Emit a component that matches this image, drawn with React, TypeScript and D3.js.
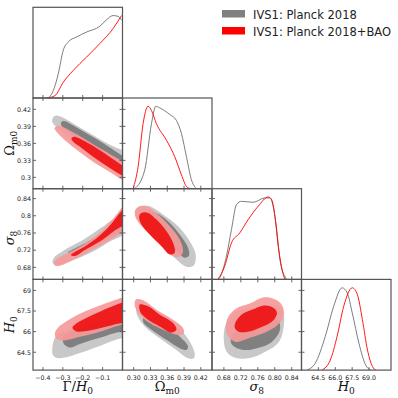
import * as d3 from "d3";

type P = [number, number];

// ---- axes ----
const gammaRange: P = [-0.45, 0];
const omegaRange: P = [0.28, 0.44];
const sigmaRange: P = [0.652, 0.863];
const h0Range: P = [63.2, 69.8];
const h0DiagRange: P = [63.0, 70.95];

const gammaTicks = [-0.4, -0.3, -0.2, -0.1];
const gammaXText = ["−0.4", "−0.3", "−0.2", "−0.1"];
const omegaTicks = [0.3, 0.33, 0.36, 0.39, 0.42];
const omegaXText = ["0.30", "0.33", "0.36", "0.39", "0.42"];
const omegaYText = ["0.3", "0.33", "0.36", "0.39", "0.42"];
const sigmaTicks = [0.68, 0.72, 0.76, 0.8, 0.84];
const sigmaXText = ["0.68", "0.72", "0.76", "0.80", "0.84"];
const sigmaYText = ["0.68", "0.72", "0.76", "0.8", "0.84"];
const h0Ticks = [64.5, 66, 67.5, 69];
const h0XText = ["64.5", "66.0", "67.5", "69.0"];
const h0YText = ["64.5", "66", "67.5", "69"];

const legendNames = ["IVS1: Planck 2018", "IVS1: Planck 2018+BAO"];
const legendColors = ["#808080", "#ff0000"];

// ---- 1D marginals (value, relative density) ----
const gammaGray: P[] = [[-0.373, 0], [-0.348, 0.089], [-0.323, 0.293], [-0.298, 0.578], [-0.273, 0.68], [-0.231, 0.74], [-0.181, 0.8], [-0.114, 0.87], [-0.082, 0.945], [-0.047, 1.0], [-0.022, 0.99], [-0.005, 0.945]];
const gammaRed: P[] = [[-0.381, 0], [-0.34, 0.028], [-0.298, 0.19], [-0.248, 0.334], [-0.181, 0.496], [-0.114, 0.66], [-0.047, 0.843], [-0.005, 1.0]];
const omegaGray: P[] = [[0.302, 0], [0.3198, 0.228], [0.3318, 0.788], [0.3395, 1.0], [0.3466, 0.98], [0.3645, 0.9], [0.3764, 0.828], [0.3854, 0.668], [0.3943, 0.388], [0.4032, 0.108], [0.4122, 0]];
const omegaRed: P[] = [[0.2989, 0], [0.3079, 0.266], [0.3168, 0.788], [0.3257, 1.0], [0.3318, 0.948], [0.3407, 0.788], [0.3586, 0.588], [0.3734, 0.388], [0.3854, 0.168], [0.3943, 0.028], [0.402, 0]];
const sigmaGray: P[] = [[0.6662, 0], [0.6702, 0.02], [0.686, 0.282], [0.6979, 0.605], [0.7097, 0.907], [0.7216, 0.947], [0.749, 0.935], [0.7767, 0.988], [0.7885, 0.988], [0.7963, 0.886], [0.8044, 0.605], [0.8122, 0.242], [0.824, 0.033], [0.828, 0]];
const sigmaRed: P[] = [[0.6662, 0], [0.682, 0.161], [0.6979, 0.443], [0.7175, 0.564], [0.7372, 0.725], [0.7608, 0.886], [0.7845, 1.0], [0.7925, 0.967], [0.8004, 0.766], [0.8082, 0.403], [0.82, 0.06], [0.824, 0]];
const h0Gray: P[] = [[63.47, 0], [64.21, 0.081], [65.11, 0.407], [65.86, 0.774], [66.61, 0.998], [67.06, 0.937], [67.51, 0.693], [68.1, 0.326], [68.7, 0.061], [69.15, 0]];
const h0Red: P[] = [[64.81, 0], [65.56, 0.122], [66.16, 0.407], [66.75, 0.774], [67.51, 0.998], [67.96, 0.917], [68.41, 0.611], [68.86, 0.244], [69.31, 0.041], [69.6, 0]];

// ---- 2D contours (95% / 68%) ----
const gamOmGray95: P[] = [[-0.352, 0.404], [-0.335, 0.409], [-0.305, 0.4065], [-0.264, 0.3986], [-0.214, 0.388], [-0.164, 0.3777], [-0.114, 0.3672], [-0.064, 0.3576], [0.0, 0.348], [0.022, 0.3445], [0.022, 0.3027], [-0.064, 0.3166], [-0.139, 0.3341], [-0.214, 0.355], [-0.289, 0.376], [-0.335, 0.39], [-0.352, 0.397]];
const gamOmGray68: P[] = [[-0.3095, 0.3969], [-0.2945, 0.3995], [-0.2393, 0.3899], [-0.164, 0.3742], [-0.0888, 0.3585], [0.0, 0.3384], [0.022, 0.3349], [0.022, 0.3166], [-0.0637, 0.3306], [-0.139, 0.348], [-0.214, 0.3655], [-0.2744, 0.3812], [-0.3045, 0.3899]];
const gamOmRed95: P[] = [[-0.342, 0.3864], [-0.3296, 0.3908], [-0.3045, 0.3899], [-0.2393, 0.3777], [-0.164, 0.362], [-0.0888, 0.3463], [0.0, 0.328], [0.022, 0.3236], [0.022, 0.2939], [-0.0637, 0.3096], [-0.139, 0.3254], [-0.214, 0.3445], [-0.2895, 0.3655], [-0.3296, 0.3794]];
const gamOmRed68: P[] = [[-0.2568, 0.3681], [-0.2443, 0.3716], [-0.1891, 0.3637], [-0.1139, 0.348], [0.0, 0.321], [0.022, 0.3166], [0.022, 0.3009], [-0.0637, 0.3166], [-0.139, 0.3341], [-0.2042, 0.3515], [-0.2443, 0.362]];

const gamSigGray95: P[] = [[-0.352, 0.6937], [-0.3396, 0.7053], [-0.3145, 0.7134], [-0.2794, 0.7239], [-0.1992, 0.7436], [-0.1139, 0.7702], [-0.0386, 0.7957], [0.0, 0.8097], [0.0216, 0.8166], [0.0216, 0.7633], [-0.0637, 0.7401], [-0.139, 0.7192], [-0.2142, 0.703], [-0.2895, 0.6914], [-0.3296, 0.6856], [-0.3472, 0.6879]];
const gamSigGray68: P[] = [[-0.2744, 0.7146], [-0.2393, 0.7239], [-0.164, 0.7424], [-0.0888, 0.7656], [0.0, 0.805], [0.0216, 0.8143], [0.0216, 0.7749], [-0.0637, 0.7517], [-0.164, 0.7262], [-0.2393, 0.7099]];
const gamSigRed95: P[] = [[-0.3446, 0.6914], [-0.3296, 0.7007], [-0.3045, 0.7065], [-0.2393, 0.7215], [-0.164, 0.7424], [-0.1139, 0.761], [-0.0637, 0.7842], [0.0, 0.8213], [0.0216, 0.8329], [0.0216, 0.7633], [0.0, 0.7598], [-0.1139, 0.7297], [-0.2142, 0.7053], [-0.2744, 0.6914], [-0.3196, 0.6833], [-0.3396, 0.6844]];
const gamSigRed68: P[] = [[-0.2594, 0.7088], [-0.2393, 0.7157], [-0.1891, 0.7285], [-0.1139, 0.754], [-0.0637, 0.7772], [0.0, 0.8143], [0.0216, 0.8236], [0.0216, 0.7702], [0.0, 0.7749], [-0.1139, 0.7401], [-0.1891, 0.7204], [-0.2393, 0.7065]];

const gamH0Gray95: P[] = [[-0.3532, 64.667], [-0.3446, 65.4], [-0.3246, 65.84], [-0.2895, 66.06], [-0.2142, 66.353], [-0.1139, 66.72], [0.0, 67.013], [0.0216, 67.087], [0.0216, 65.4], [0.0, 65.51], [-0.1139, 64.96], [-0.2142, 64.447], [-0.2895, 64.117], [-0.3296, 64.08], [-0.3497, 64.3]];
const gamH0Gray68: P[] = [[-0.2995, 65.62], [-0.2744, 65.913], [-0.2142, 66.207], [-0.1139, 66.573], [0.0, 66.94], [0.0216, 67.013], [0.0216, 65.987], [0.0, 66.023], [-0.1139, 65.547], [-0.2142, 65.107], [-0.2644, 64.85], [-0.2945, 65.107]];
const gamH0Red95: P[] = [[-0.3396, 65.913], [-0.3246, 66.28], [-0.2895, 66.683], [-0.2142, 67.307], [-0.1139, 67.893], [0.0, 68.48], [0.0216, 68.553], [0.0216, 66.427], [0.0, 66.5], [-0.1139, 65.987], [-0.2142, 65.62], [-0.2895, 65.363], [-0.3246, 65.4], [-0.3371, 65.62]];
const gamH0Red68: P[] = [[-0.2518, 66.28], [-0.2343, 66.573], [-0.1891, 66.94], [-0.1139, 67.453], [0.0, 68.113], [0.0216, 68.187], [0.0216, 66.573], [0.0, 66.625], [-0.1139, 66.243], [-0.1891, 66.023], [-0.2343, 66.023]];

const omSigGray95: P[] = [[0.3109, 0.822], [0.3288, 0.822], [0.3525, 0.8027], [0.3793, 0.7756], [0.4002, 0.7408], [0.4109, 0.7099], [0.4073, 0.6844], [0.3943, 0.6814], [0.3764, 0.6984], [0.3525, 0.7292], [0.3288, 0.7603], [0.3079, 0.7911], [0.3038, 0.8104]];
const omSigGray68: P[] = [[0.3257, 0.8104], [0.3407, 0.8066], [0.3614, 0.7872], [0.3823, 0.7563], [0.3972, 0.7255], [0.3989, 0.7076], [0.3913, 0.7023], [0.3734, 0.7215], [0.3497, 0.7524], [0.3318, 0.7795], [0.3216, 0.7988]];
const omSigRed95: P[] = [[0.3079, 0.8206], [0.3229, 0.822], [0.3407, 0.8066], [0.3645, 0.7756], [0.3823, 0.7447], [0.3882, 0.7176], [0.3823, 0.7046], [0.3704, 0.706], [0.3466, 0.7331], [0.3229, 0.764], [0.305, 0.7911], [0.302, 0.8104]];
const omSigRed68: P[] = [[0.3139, 0.8066], [0.3257, 0.8066], [0.3407, 0.7911], [0.3586, 0.764], [0.3704, 0.7371], [0.3734, 0.7139], [0.3645, 0.71], [0.3497, 0.7292], [0.3288, 0.7563], [0.3139, 0.7795], [0.3096, 0.7988]];

const omH0Gray95: P[] = [[0.3079, 68.091], [0.3347, 67.6], [0.3645, 66.867], [0.3943, 65.642], [0.4091, 64.425], [0.4073, 64.058], [0.3972, 64.058], [0.3764, 64.667], [0.3466, 65.525], [0.3198, 66.38], [0.305, 67.358]];
const omH0Gray68: P[] = [[0.3229, 67.358], [0.3525, 66.625], [0.3823, 65.642], [0.3972, 64.909], [0.3943, 64.667], [0.3823, 64.792], [0.3586, 65.4], [0.3318, 66.133], [0.3168, 66.742]];
const omH0Red95: P[] = [[0.3038, 68.333], [0.3168, 68.282], [0.3407, 67.6], [0.3704, 66.867], [0.3882, 66.258], [0.3895, 65.84], [0.3764, 65.767], [0.3525, 66.133], [0.3288, 66.625], [0.3109, 67.233], [0.302, 67.842]];
const omH0Red68: P[] = [[0.3109, 67.967], [0.3257, 67.842], [0.3466, 67.233], [0.3704, 66.625], [0.3764, 66.133], [0.3675, 65.935], [0.3466, 66.38], [0.3257, 66.867], [0.3121, 67.402]];

const sigH0Gray95: P[] = [[0.6844, 66.5], [0.7057, 67.38], [0.753, 67.747], [0.8003, 67.967], [0.8193, 67.453], [0.8216, 66.5], [0.8098, 65.253], [0.7767, 64.52], [0.7412, 64.08], [0.7081, 64.08], [0.6868, 64.52], [0.6797, 65.4]];
const sigH0Gray68: P[] = [[0.701, 65.767], [0.7294, 66.5], [0.7767, 67.013], [0.8074, 66.867], [0.8122, 66.133], [0.7932, 65.253], [0.7601, 64.813], [0.7294, 64.667], [0.7057, 64.887], [0.6962, 65.253]];
const sigH0Red95: P[] = [[0.6891, 67.013], [0.7081, 67.673], [0.7412, 68.04], [0.772, 68.48], [0.7956, 68.407], [0.8145, 68.04], [0.8216, 67.38], [0.8122, 66.647], [0.7814, 65.987], [0.7412, 65.547], [0.7081, 65.253], [0.6891, 65.693], [0.6844, 66.28]];
const sigH0Red68: P[] = [[0.7081, 66.72], [0.7246, 67.307], [0.753, 67.673], [0.7767, 67.893], [0.7956, 67.747], [0.8051, 67.38], [0.7956, 66.793], [0.7649, 66.28], [0.7365, 65.987], [0.7152, 65.987], [0.7057, 66.28]];

// ---- layout ----
const W = 398;
const left = 33;
const top = 7.3;
const cw = 89.5;
const ch = 90.7;
const tickLen = 3;

const xRanges = [gammaRange, omegaRange, sigmaRange, h0DiagRange];
const yRanges = [gammaRange, omegaRange, sigmaRange, h0Range];
const allTicks = [gammaTicks, omegaTicks, sigmaTicks, h0Ticks];
const xTexts = [gammaXText, omegaXText, sigmaXText, h0XText];
const yTexts = [null, omegaYText, sigmaYText, h0YText];

const grayLight = "#c8c8c8";
const grayDark = "#808080";
const redLight = "#f59a9a";
const redDark = "#ee1111";

const diag = [
  { gray: gammaGray, red: gammaRed },
  { gray: omegaGray, red: omegaRed },
  { gray: sigmaGray, red: sigmaRed },
  { gray: h0Gray, red: h0Red },
];

const twoD = [
  { c: 0, r: 1, g95: gamOmGray95, g68: gamOmGray68, r95: gamOmRed95, r68: gamOmRed68 },
  { c: 0, r: 2, g95: gamSigGray95, g68: gamSigGray68, r95: gamSigRed95, r68: gamSigRed68 },
  { c: 0, r: 3, g95: gamH0Gray95, g68: gamH0Gray68, r95: gamH0Red95, r68: gamH0Red68 },
  { c: 1, r: 2, g95: omSigGray95, g68: omSigGray68, r95: omSigRed95, r68: omSigRed68 },
  { c: 1, r: 3, g95: omH0Gray95, g68: omH0Gray68, r95: omH0Red95, r68: omH0Red68 },
  { c: 2, r: 3, g95: sigH0Gray95, g68: sigH0Gray68, r95: sigH0Red95, r68: sigH0Red68 },
];

const xScale = (c: number) =>
  d3.scaleLinear().domain(xRanges[c]).range([left + c * cw, left + (c + 1) * cw]);
const yScale = (r: number) =>
  d3.scaleLinear().domain(yRanges[r]).range([top + (r + 1) * ch, top + r * ch]);

const Ticks = ({ c, r, isDiag }: { c: number; r: number; isDiag: boolean }) => {
  const x = xScale(c);
  const y = yScale(r);
  const x0 = left + c * cw, x1 = x0 + cw;
  const y0 = top + r * ch, y1 = y0 + ch;
  const lines: JSX.Element[] = [];
  allTicks[c].forEach((t, i) => {
    const px = x(t);
    lines.push(<line key={"b" + i} x1={px} x2={px} y1={y1} y2={y1 - tickLen} />);
    if (!isDiag) lines.push(<line key={"t" + i} x1={px} x2={px} y1={y0} y2={y0 + tickLen} />);
  });
  if (r > 0) {
    allTicks[r].forEach((t, i) => {
      const py = y(t);
      lines.push(<line key={"l" + i} x1={x0} x2={x0 + tickLen} y1={py} y2={py} />);
      if (!isDiag) lines.push(<line key={"r" + i} x1={x1} x2={x1 - tickLen} y1={py} y2={py} />);
    });
  }
  return <g stroke="#555" strokeWidth={0.9}>{lines}</g>;
};

const contour = (pts: P[], x: d3.ScaleLinear<number, number>, y: d3.ScaleLinear<number, number>) =>
  d3.line<P>().x((d) => x(d[0])).y((d) => y(d[1])).curve(d3.curveCatmullRomClosed.alpha(0.5))(pts) || "";

const Panel2D = ({ p, idx }: { p: (typeof twoD)[number]; idx: number }) => {
  const x = xScale(p.c);
  const y = yScale(p.r);
  const x0 = left + p.c * cw, y0 = top + p.r * ch;
  const id = "clip2d" + idx;
  return (
    <g>
      <clipPath id={id}>
        <rect x={x0} y={y0} width={cw} height={ch} />
      </clipPath>
      <g clipPath={`url(#${id})`}>
        <path d={contour(p.g95, x, y)} fill={grayLight} />
        <path d={contour(p.g68, x, y)} fill={grayDark} />
        <path d={contour(p.r95, x, y)} fill={redLight} fillOpacity={0.92} />
        <path d={contour(p.r68, x, y)} fill={redDark} fillOpacity={0.92} />
      </g>
      <Ticks c={p.c} r={p.r} isDiag={false} />
      <rect x={x0} y={y0} width={cw} height={ch} fill="none" stroke="#555" strokeWidth={1.2} />
    </g>
  );
};

const PanelDiag = ({ i }: { i: number }) => {
  const x = xScale(i);
  const y = d3.scaleLinear().domain([0, 1.1]).range([top + (i + 1) * ch, top + i * ch]);
  const x0 = left + i * cw, y0 = top + i * ch;
  const id = "clipd" + i;
  const line = d3.line<P>().x((d) => x(d[0])).y((d) => y(d[1])).curve(d3.curveMonotoneX);
  return (
    <g>
      <clipPath id={id}>
        <rect x={x0} y={y0} width={cw} height={ch} />
      </clipPath>
      <g clipPath={`url(#${id})`} fill="none" strokeWidth={0.9}>
        <path d={line(diag[i].gray) || ""} stroke="#6e6e6e" />
        <path d={line(diag[i].red) || ""} stroke="#ff0000" />
      </g>
      <Ticks c={i} r={i} isDiag={true} />
      <rect x={x0} y={y0} width={cw} height={ch} fill="none" stroke="#555" strokeWidth={1.2} />
    </g>
  );
};

const tickFont = { fontFamily: "DejaVu Sans", fontSize: 6.3, fill: "#222" };
const mathFont = { fontFamily: "DejaVu Serif", fontSize: 13, fill: "#111" };

const AxisLabel = ({ i }: { i: number }) => {
  if (i === 0)
    return (
      <>
        <tspan>Γ/</tspan>
        <tspan fontStyle="italic">H</tspan>
        <tspan fontSize={9} dy={3}>0</tspan>
      </>
    );
  if (i === 1)
    return (
      <>
        <tspan>Ω</tspan>
        <tspan fontSize={9} dy={3}>m0</tspan>
      </>
    );
  if (i === 2)
    return (
      <>
        <tspan fontStyle="italic">σ</tspan>
        <tspan fontSize={9} dy={3}>8</tspan>
      </>
    );
  return (
    <>
      <tspan fontStyle="italic">H</tspan>
      <tspan fontSize={9} dy={3}>0</tspan>
    </>
  );
};

export default function App() {
  const bottom = top + 4 * ch;
  return (
    <svg width={W} height={W} style={{ position: "absolute", left: 0, top: 0, background: "#fff" }}>
      {[0, 1, 2, 3].map((i) => (
        <PanelDiag key={"d" + i} i={i} />
      ))}
      {twoD.map((p, i) => (
        <Panel2D key={"p" + i} p={p} idx={i} />
      ))}
      {/* x tick labels */}
      {[0, 1, 2, 3].map((c) =>
        allTicks[c].map((t, j) => (
          <text key={`xt${c}-${j}`} x={xScale(c)(t)} y={bottom + 9.5} textAnchor="middle" {...tickFont}>
            {xTexts[c][j]}
          </text>
        ))
      )}
      {/* y tick labels */}
      {[1, 2, 3].map((r) =>
        allTicks[r].map((t, j) => (
          <text key={`yt${r}-${j}`} x={left - 2} y={yScale(r)(t) + 2.3} textAnchor="end" {...tickFont}>
            {(yTexts[r] as string[])[j]}
          </text>
        ))
      )}
      {/* axis labels */}
      {[0, 1, 2, 3].map((c) => (
        <text key={"xl" + c} x={left + (c + 0.5) * cw} y={bottom + 21} textAnchor="middle" {...mathFont}>
          <AxisLabel i={c} />
        </text>
      ))}
      {[1, 2, 3].map((r) => (
        <text
          key={"yl" + r}
          transform={`translate(14,${top + (r + 0.5) * ch + (r === 2 ? 4 : 0)}) rotate(-90)`}
          textAnchor="middle"
          {...mathFont}
        >
          <AxisLabel i={r} />
        </text>
      ))}
      {/* legend */}
      {legendNames.map((n, i) => (
        <g key={"lg" + i}>
          <rect x={222} y={10} transform={`translate(0,${i * 17})`} width={23} height={7.5} fill={legendColors[i]} />
          <text x={253} y={18.5 + i * 17} fontFamily="DejaVu Sans" fontSize={11.5} fill="#222">
            {n}
          </text>
        </g>
      ))}
    </svg>
  );
}
